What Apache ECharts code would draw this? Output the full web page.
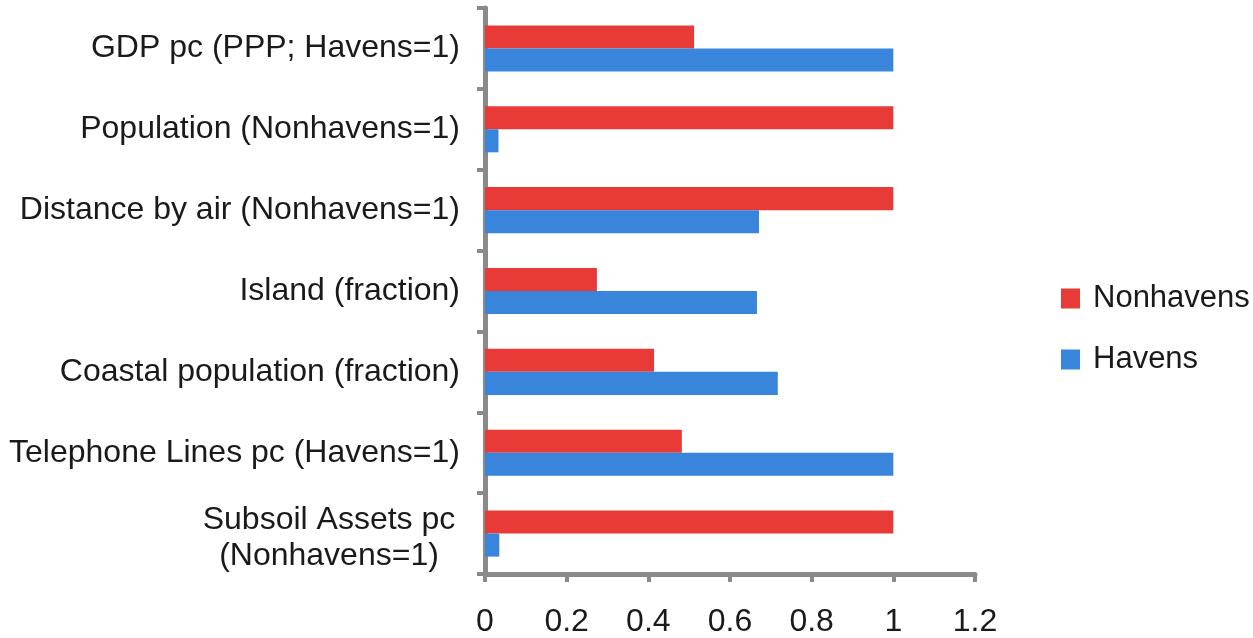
<!DOCTYPE html>
<html>
<head>
<meta charset="utf-8">
<script src="https://cdn.jsdelivr.net/npm/echarts@6/dist/echarts.min.js"></script>
<style>html,body{margin:0;padding:0;background:#fff;}#c{width:1253px;height:638px;}</style>
</head>
<body>
<div id="c"></div>
<script>
const categories = [
  'GDP pc (PPP; Havens=1)',
  'Population (Nonhavens=1)',
  'Distance by air (Nonhavens=1)',
  'Island (fraction)',
  'Coastal population (fraction)',
  'Telephone Lines pc (Havens=1)',
  'Subsoil Assets pc\n(Nonhavens=1)'
];
const nonhavens = [0.512, 1.0, 1.0, 0.274, 0.414, 0.482, 1.0];
const havens = [1.0, 0.033, 0.671, 0.666, 0.717, 1.0, 0.035];
const xTicks = [0, 0.2, 0.4, 0.6, 0.8, 1, 1.2];

const FONT = 'Liberation Sans, Arial, Helvetica, sans-serif';
const chart = echarts.init(document.getElementById('c'));
chart.setOption({
  animation: false,
  textStyle: { fontFamily: FONT },
  grid: { left: 485, right: 278, top: 8, bottom: 61, containLabel: false },
  legend: {
    orient: 'vertical',
    left: 1061,
    top: 283,
    padding: 0,
    itemWidth: 19,
    itemHeight: 20,
    itemGap: 30,
    icon: 'rect',
    textStyle: { fontSize: 31, color: '#1a1a1a', fontFamily: FONT, padding: [0, 0, 0, 8] },
    data: ['Nonhavens', 'Havens']
  },
  xAxis: {
    type: 'value',
    min: 0,
    max: 1.2,
    interval: 0.2,
    splitLine: { show: false },
    axisLine: { show: true, lineStyle: { color: '#8a8a8a', width: 5 } },
    axisTick: { show: true, length: 8, lineStyle: { color: '#8a8a8a', width: 4 } },
    axisLabel: {
      fontSize: 32, color: '#1a1a1a', margin: 32, fontFamily: FONT,
      formatter: v => {
        const t = xTicks.find(x => Math.abs(x - v) < 1e-9);
        return t === undefined ? '' : String(t);
      }
    }
  },
  yAxis: {
    type: 'category',
    inverse: true,
    data: categories,
    axisLine: { show: true, lineStyle: { color: '#8a8a8a', width: 5 } },
    axisTick: { show: true, length: 8, lineStyle: { color: '#8a8a8a', width: 4 } },
    axisLabel: {
      fontSize: 32, color: '#1a1a1a', margin: 25, fontFamily: FONT,
      lineHeight: 36,
      formatter: v => {
        if (v.indexOf('\n') >= 0) {
          return v.split('\n').map(s => '{c|' + s + '}').join('\n');
        }
        return v;
      },
      rich: { c: { fontSize: 32, width: 262, align: 'center', color: '#1a1a1a', fontFamily: FONT, lineHeight: 36, padding: [9, 0, 0, 0] } }
    }
  },
  series: [
    {
      name: 'Nonhavens', type: 'bar', data: nonhavens,
      itemStyle: { color: '#e83a37' },
      barGap: '0%', barCategoryGap: '43%'
    },
    {
      name: 'Havens', type: 'bar', data: havens,
      itemStyle: { color: '#3a85dc' },
      barGap: '0%', barCategoryGap: '43%'
    }
  ]
});
</script>
</body>
</html>
